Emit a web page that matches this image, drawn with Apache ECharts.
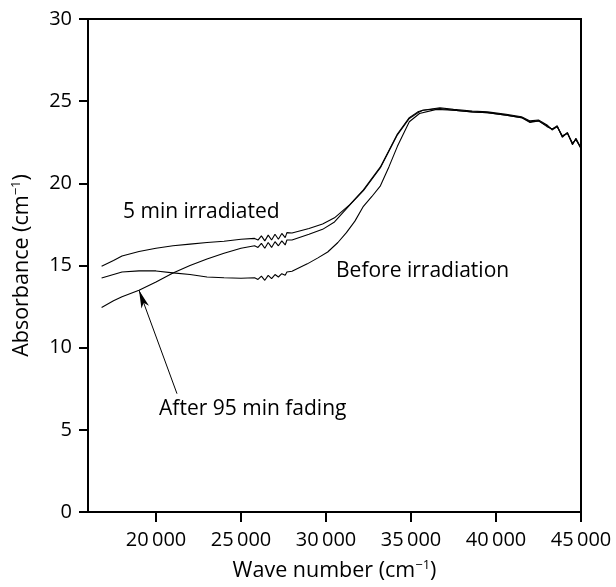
<!DOCTYPE html>
<html><head><meta charset="utf-8">
<script src="https://cdn.jsdelivr.net/npm/echarts@6/dist/echarts.min.js"></script>
<style>html,body{margin:0;padding:0;background:#fff}#c{width:616px;height:587px}</style>
</head><body><div id="c"></div>
<script>
// Wave number ticks
const xTicks = [20000, 25000, 30000, 35000, 40000, 45000];
const yTicks = [0, 5, 10, 15, 20, 25, 30];

// 5 min irradiated
const waveIrr = [16800,17500,18000,19000,20000,21000,22000,23000,24000,25000,25800,26000,26200,26400,26600,26800,27000,27200,27400,27600,27700,28000,29000,29800,30500,31400,32200,33200,34200,34900,35400,35700,36700,37500,38600,39500,40600,41500,42000,42500,43000,43300,43600,43900,44200,44500,44700,45000];
const absIrr  = [14.95,15.3,15.58,15.85,16.05,16.2,16.3,16.4,16.48,16.6,16.65,16.55,16.8,16.5,16.85,16.55,16.9,16.6,16.95,16.7,17.0,16.98,17.25,17.52,17.9,18.7,19.6,21.0,23.0,24.0,24.35,24.45,24.6,24.5,24.4,24.35,24.2,24.05,23.8,23.85,23.55,23.25,23.45,22.85,23.05,22.4,22.7,22.1];

// After 95 min fading
const waveFade = [16800,17500,18000,19000,20000,21000,22000,23000,24000,25000,25800,26000,26200,26400,26600,26800,27000,27200,27400,27600,27700,28000,29000,29800,30500,31500,32200,33200,34200,34900,35400,35700,36700,37500,38600,39500,40600,41500,42000,42500,43000,43300,43600,43900,44200,44500,44700,45000];
const absFade  = [12.45,12.85,13.1,13.5,14.0,14.55,15.0,15.4,15.75,16.05,16.2,16.1,16.35,16.05,16.4,16.1,16.45,16.2,16.5,16.25,16.55,16.55,16.9,17.2,17.65,18.8,19.55,20.95,22.95,23.95,24.3,24.45,24.55,24.45,24.35,24.3,24.15,24.0,23.7,23.8,23.45,23.3,23.5,22.8,23.1,22.35,22.75,22.15];

// Before irradiation
const waveBefore = [16800,17500,18000,19000,20000,21000,22000,23000,24000,25000,25800,26000,26200,26400,26600,26800,27000,27200,27400,27600,27700,28000,28900,29500,30100,30700,31200,31700,32200,32700,33200,33700,34200,34900,35500,36500,37500,38600,39500,40600,41500,42000,42500,43000,43300,43600,43900,44200,44500,44700,45000];
const absBefore  = [14.24,14.45,14.6,14.67,14.67,14.55,14.45,14.3,14.25,14.22,14.25,14.15,14.35,14.1,14.4,14.2,14.45,14.3,14.5,14.4,14.6,14.65,15.1,15.45,15.82,16.4,17.0,17.7,18.6,19.2,19.85,21.0,22.25,23.75,24.25,24.5,24.45,24.35,24.3,24.15,24.0,23.75,23.8,23.5,23.3,23.45,22.9,23.05,22.45,22.65,22.15];

const labels = [
  {text: '5 min irradiated', x: 18060, y: 18.24},
  {text: 'Before irradiation', x: 30590, y: 14.67},
  {text: 'After 95 min fading', x: 20180, y: 6.27}
];
const arrowTail = [21235, 7.2];
const arrowTip = [19000, 13.5];

const zip = (a, b) => a.map((v, i) => [v, b[i]]);
const FONT = '"Open Sans", "Liberation Sans", Arial, sans-serif';
const chart = echarts.init(document.getElementById('c'), null, {renderer: 'canvas'});

const lineSeries = (name, xs, ys) => ({
  type: 'line', name, data: zip(xs, ys), showSymbol: false, symbol: 'none',
  lineStyle: {color: '#000', width: 1.1}, z: 3, animation: false
});

const titleRich = {
  n: {fontSize: 21.5, fontFamily: FONT, color: '#000'},
  s: {fontSize: 13, fontFamily: FONT, color: '#000', padding: [0, 0, 11, 0]}
};

chart.setOption({
  animation: false,
  backgroundColor: '#fff',
  grid: {left: 88, right: 35, top: 19, bottom: 73, show: true, borderColor: '#000', borderWidth: 2},
  xAxis: {
    type: 'value', min: 16000, max: 45000,
    name: '{n|Wave number (cm}{s|−1}{n|)}', nameLocation: 'middle', nameGap: 47,
    nameTextStyle: {rich: titleRich},
    axisLine: {show: true, lineStyle: {color: '#000', width: 2}},
    axisTick: {show: true, inside: false, length: 10, lineStyle: {color: '#000', width: 2}, customValues: xTicks},
    axisLabel: {color: '#000', fontSize: 20, fontFamily: FONT, margin: 18, customValues: xTicks,
      formatter: v => String(v).replace(/(\d{2})(\d{3})$/, '$1\u2009$2')},
    splitLine: {show: false}
  },
  yAxis: {
    type: 'value', min: 0, max: 30, interval: 5,
    name: '{n|Absorbance (cm}{s|−1}{n|)}', nameLocation: 'middle', nameGap: 54, nameRotate: 90,
    nameTextStyle: {rich: titleRich},
    axisLine: {show: true, lineStyle: {color: '#000', width: 2}},
    axisTick: {show: true, inside: false, length: 9, lineStyle: {color: '#000', width: 2}},
    axisLabel: {color: '#000', fontSize: 20, fontFamily: FONT, margin: 16},
    splitLine: {show: false}
  },
  series: [
    lineSeries('5 min irradiated', waveIrr, absIrr),
    lineSeries('After 95 min fading', waveFade, absFade),
    Object.assign(lineSeries('Before irradiation', waveBefore, absBefore), {
      markLine: {
        silent: true, animation: false,
        symbol: ['none', 'arrow'], symbolSize: [6, 18],
        lineStyle: {color: '#000', width: 1, type: 'solid'},
        label: {show: false},
        data: [[{coord: arrowTail}, {coord: arrowTip}]]
      }
    })
  ]
});

chart.setOption({
  graphic: labels.map(l => {
    const p = chart.convertToPixel({gridIndex: 0}, [l.x, l.y]);
    return {type: 'text', x: p[0], y: p[1], z: 10,
      style: {text: l.text, fill: '#000', font: '21px ' + FONT, verticalAlign: 'middle'}};
  })
});
</script></body></html>
